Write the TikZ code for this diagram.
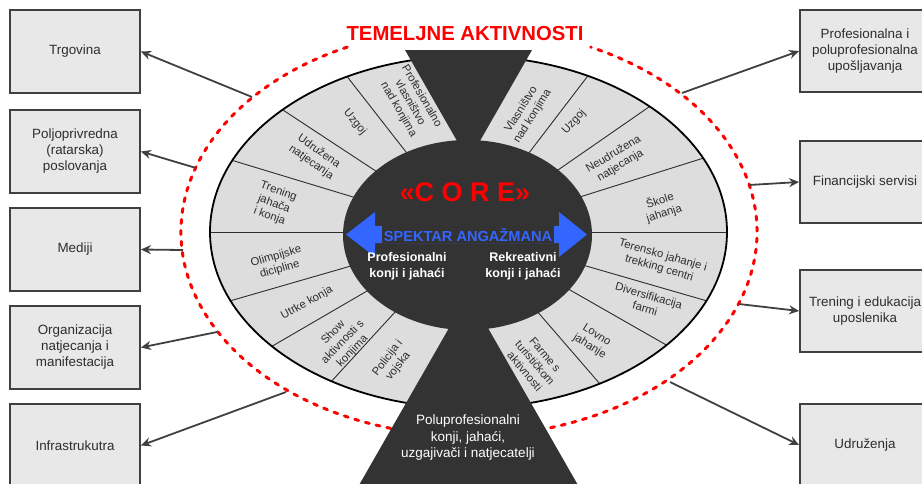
\documentclass[tikz,border=0pt]{standalone}
\usepackage{fontspec}
\setmainfont{Liberation Sans}
\usetikzlibrary{arrows.meta,calc}
\definecolor{boxfill}{RGB}{232,232,232}
\definecolor{boxline}{RGB}{64,64,64}
\definecolor{wheelfill}{RGB}{221,221,221}
\definecolor{darkcore}{RGB}{51,51,51}
\definecolor{redline}{RGB}{255,0,0}
\definecolor{blueacc}{RGB}{51,102,255}
\definecolor{txtgray}{RGB}{45,45,45}
\begin{document}
\begin{tikzpicture}[x=1pt,y=-1pt,
  sidebox/.style={draw=boxline, line width=1.8pt, fill=boxfill, minimum width=130pt, minimum height=83pt, inner sep=2pt, align=center, font=\fontsize{13.4}{16}\selectfont, text=txtgray},
  link/.style={draw=boxline, line width=1.8pt, -{Stealth[length=10pt,width=9pt]}},
  seglabel/.style={font=\fontsize{11.3}{13.3}\selectfont, text=txtgray, align=center, inner sep=0pt},
  divider/.style={draw=txtgray, line width=0.9pt},
  whitetext/.style={text=white, align=center, inner sep=0pt},
]
\useasboundingbox (0,0) rectangle (922,483);

% dashed outer ring
\draw[redline, line width=3pt, line cap=round, dash pattern=on 4pt off 7pt]
  (469,232) ++(115:288pt and 204pt) arc[start angle=115, end angle=425, x radius=288pt, y radius=204pt];

% side boxes
\node[sidebox] (l1) at (75,51.5) {Trgovina};
\node[sidebox] (l2) at (75,151.5) {Poljoprivredna\\(ratarska)\\poslovanja};
\node[sidebox] (l3) at (75,249.5) {Mediji};
\node[sidebox] (l4) at (75,347.5) {Organizacija\\natjecanja i\\manifestacija};
\node[sidebox] (l5) at (75,445.5) {Infrastrukutra};
\node[sidebox, minimum height=82pt] (r1) at (865,51) {Profesionalna i\\poluprofesionalna\\upošljavanja};
\node[sidebox, minimum height=82pt] (r2) at (865,182) {Financijski servisi};
\node[sidebox, minimum height=82pt] (r3) at (865,311) {Trening i edukacija\\uposlenika};
\node[sidebox, minimum height=82pt] (r4) at (865,445) {Udruženja};

% connector start points on the ring
\coordinate (sl1) at (252,97);
\coordinate (sl2) at (196,168);
\coordinate (sl3) at (183,250);
\coordinate (sl4) at (217,332);
\coordinate (sl5) at (286,392);
\coordinate (sr1) at (682,93);
\coordinate (sr2) at (749,185);
\coordinate (sr3) at (739,304);
\coordinate (sr4) at (670,382);
\draw[link] (sl1) -- (l1.east);
\draw[link] (sl2) -- (l2.east);
\draw[link] (sl3) -- (l3.east);
\draw[link] (sl4) -- (l4.east);
\draw[link] (sl5) -- (l5.east);
\draw[link] (sr1) -- (r1.west);
\draw[link] (sr2) -- (r2.west);
\draw[link] (sr3) -- (r3.west);
\draw[link] (sr4) -- (r4.west);

% wheel
\coordinate (ctr) at (468.5,232);
\fill[wheelfill] (ctr) ellipse[x radius=258.5pt, y radius=176pt];
\foreach \a in {118,136,156,180,203,220.5,238,62.5,45.5,24.8,0,-23,-40,-59.5}
  \draw[divider] (ctr) -- ++(\a:258.5pt and 176pt);
\draw[black, line width=1.8pt] (ctr) ellipse[x radius=258.5pt, y radius=176pt];

% core and hourglass
\fill[darkcore] (467.5,235) ellipse[x radius=124.5pt, y radius=95pt];
\fill[darkcore] (405,50) -- (532,50) -- (468.5,161) -- cycle;
\fill[darkcore] (468.5,294) -- (586.5,500) -- (350.5,500) -- cycle;

% blue double arrow
\fill[blueacc] (346,234.5) -- (375,212) -- (375,226) -- (559,226) -- (559,212) -- (587,234.5)
  -- (559,257) -- (559,243) -- (375,243) -- (375,257) -- cycle;

% texts
\node[text=redline, font=\bfseries\fontsize{20.3}{24}\selectfont, anchor=base, inner sep=0pt] (title) at (465,40) {TEMELJNE AKTIVNOSTI};
\node[text=redline, font=\bfseries\fontsize{27}{30}\selectfont, anchor=base, inner sep=0pt] (core) at (465,201.7) {«C O R E»};
\node[text=blueacc, font=\bfseries\fontsize{14.6}{17}\selectfont, fill=darkcore, inner sep=1.5pt, anchor=base] (spektar) at (468,241) {SPEKTAR ANGAŽMANA};
\node[whitetext, font=\bfseries\fontsize{12.5}{15.5}\selectfont] (prof) at (407,266.5) {Profesionalni\\konji i jahaći};
\node[whitetext, font=\bfseries\fontsize{12.5}{15.5}\selectfont] (rekr) at (523,266.5) {Rekreativni\\konji i jahaći};
\node[whitetext, font=\fontsize{13.5}{16.5}\selectfont] (polu) at (468,438) {Poluprofesionalni\\konji, jahaći,\\uzgajivači i natjecatelji};

% segment labels
\node[seglabel, rotate=-60] (L1) at (410,103) {Profesionalno\\vlasništvo\\nad konjima};
\node[seglabel, rotate=-50] (L2) at (355,122) {Uzgoj};
\node[seglabel, rotate=-35] (L3) at (315,157) {Udružena\\natjecanja};
\node[seglabel, rotate=-20] (L4) at (274,204) {Trening\\jahača\\i konja};
\node[seglabel, rotate=16] (L5) at (278,263) {Olimpijske\\dicipline};
\node[seglabel, rotate=29] (L6) at (307,303) {Utrke konja};
\node[seglabel, rotate=46] (L7) at (343,342) {Show\\aktivnosti s\\konjima};
\node[seglabel, rotate=52] (L8) at (393,362) {Policija i\\vojska};
\node[seglabel, rotate=58] (R1) at (527,113) {Vlasništvo\\nad konjima};
\node[seglabel, rotate=47] (R2) at (574,122) {Uzgoj};
\node[seglabel, rotate=31] (R3) at (617,160) {Neudružena\\natjecanja};
\node[seglabel, rotate=18] (R4) at (662,207) {Škole\\jahanja};
\node[seglabel, rotate=-16] (R5) at (661,262) {Terensko jahanje i\\trekking centri};
\node[seglabel, rotate=-16] (R6) at (647,302) {Diversifikacija\\farmi};
\node[seglabel, rotate=-32] (R7) at (593,341) {Lovno\\jahanje};
\node[seglabel, rotate=-50] (R8) at (535,363) {Farme s\\turističkom\\aktivnosti};
\end{tikzpicture}
\end{document}
